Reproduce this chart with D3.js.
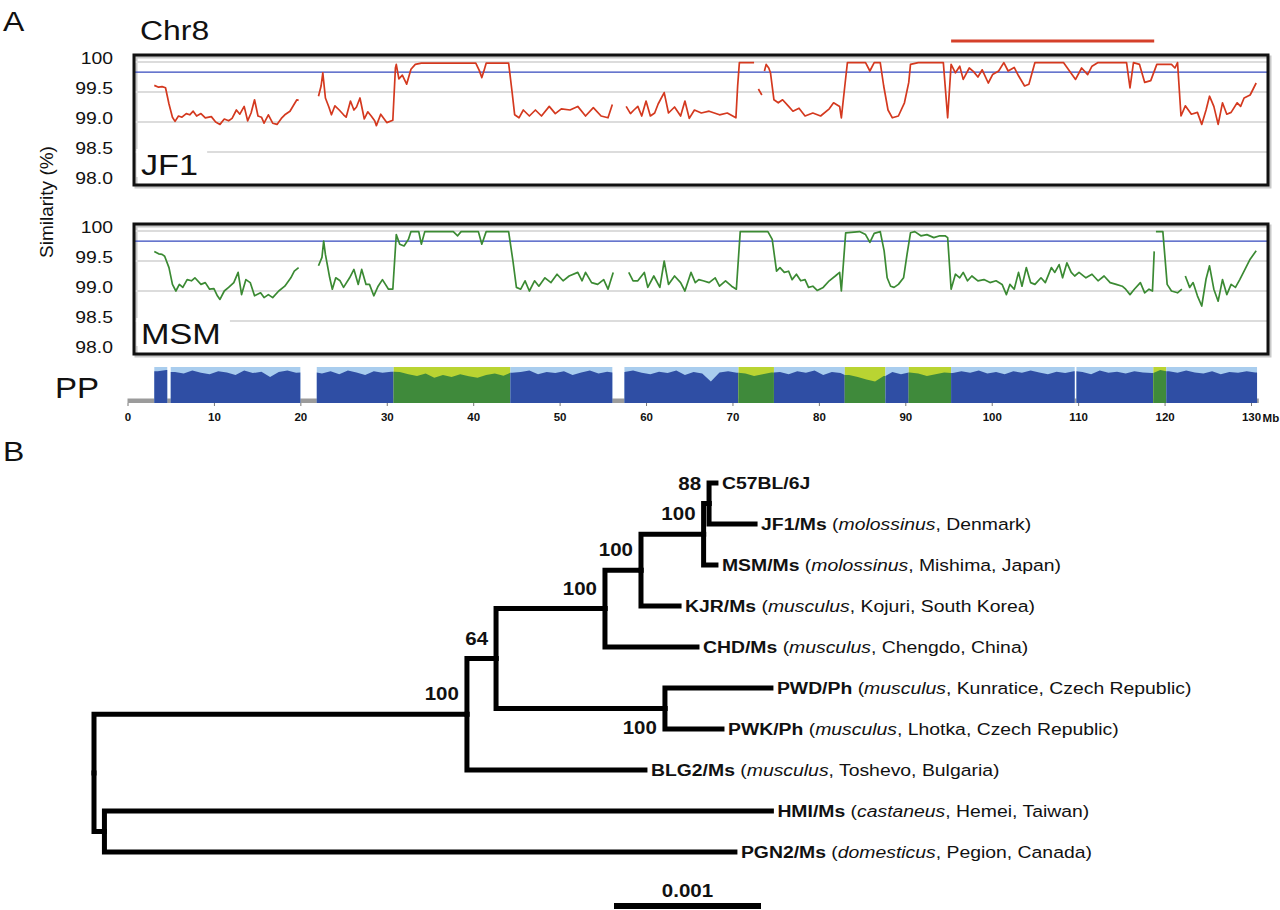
<!DOCTYPE html>
<html>
<head>
<meta charset="utf-8">
<script src="https://cdn.jsdelivr.net/npm/d3@7"></script>
<style>
body { margin: 0; background: #fff; }
svg { display: block; font-family: "Liberation Sans", Arial, Helvetica, sans-serif; }
</style>
</head>
<body>
<div id="figure"></div>
<script>
// ---- panel A: sliding-window similarity to C57BL/6J on Chr8 (Mb, %) ----
// null marks a break in the line
const jf1Points = [
  [3.1,99.61],[3.6,99.58],[4.0,99.59],[4.4,99.57],[4.8,99.3],[5.2,99.08],[5.5,99.01],[5.9,99.1],[6.3,99.08],[6.8,99.14],
  [7.2,99.12],[7.6,99.18],[8.0,99.1],[8.5,99.14],[9.0,99.07],[9.7,99.09],[10.2,99.0],[10.7,98.96],[11.2,99.05],[11.7,99.02],
  [12.1,99.06],[12.6,99.2],[13.0,99.13],[13.5,99.26],[13.9,99.02],[14.3,99.15],[14.7,99.37],[15.1,99.1],[15.5,99.08],[15.8,98.98],
  [16.3,99.12],[16.8,98.98],[17.3,98.96],[17.8,99.06],[18.2,99.12],[18.8,99.18],[19.3,99.3],[19.6,99.37],[19.8,99.36],
  null,
  [22.1,99.43],[22.4,99.6],[22.6,99.82],[22.9,99.4],[23.3,99.25],[23.6,99.12],[24.0,99.27],[24.5,99.2],[25.0,99.12],[25.3,99.08],
  [25.8,99.35],[26.2,99.2],[26.5,99.25],[26.9,99.4],[27.4,99.05],[27.8,99.17],[28.2,99.1],[28.6,99.02],[28.8,98.94],[29.3,99.13],
  [29.7,99.05],[30.0,98.99],[30.7,99.03],[31.0,99.9],[31.1,99.96],[31.4,99.72],[31.8,99.78],[32.3,99.63],[32.8,99.88],[33.3,99.96],
  [34.0,99.98],[36.0,99.98],[38.0,99.98],[40.3,99.98],[40.7,99.86],[41.0,99.74],[41.3,99.88],[41.5,99.98],[43.0,99.98],[44.1,99.98],
  [44.5,99.5],[44.8,99.12],[45.3,99.07],[45.8,99.2],[46.5,99.1],[47.2,99.2],[47.9,99.1],[48.8,99.26],[49.5,99.14],[50.2,99.22],
  [51.2,99.2],[52.1,99.26],[53.0,99.1],[53.9,99.24],[54.8,99.1],[55.6,99.07],[56.1,99.29],
  null,
  [57.7,99.26],[58.2,99.14],[58.6,99.2],[59.05,99.26],[59.5,99.1],[60.0,99.35],[60.5,99.1],[61.0,99.15],[61.4,99.3],[62.1,99.49],
  [62.6,99.15],[63.3,99.25],[64.0,99.1],[64.5,99.35],[65.0,99.06],[65.6,99.2],[66.4,99.15],[67.3,99.18],[68.5,99.12],[69.4,99.15],
  [70.4,99.07],[70.6,99.6],[70.8,99.99],[72.5,99.99],
  null,
  [73.0,99.55],[73.4,99.45],
  null,
  [73.7,99.85],[73.9,99.96],[74.2,99.9],[74.4,99.82],[74.8,99.37],[75.3,99.32],[75.8,99.37],[76.5,99.26],[77.0,99.18],[77.7,99.23],
  [78.4,99.1],[79.3,99.15],[80.2,99.1],[81.2,99.22],[81.7,99.32],[82.4,99.26],[82.6,99.07],[83.0,99.6],[83.3,99.99],[84.7,99.99],
  [85.4,99.99],[85.9,99.85],[86.4,99.99],[87.1,99.99],[87.5,99.6],[88.0,99.2],[88.5,99.07],[89.2,99.1],[89.9,99.32],[90.4,99.66],
  [90.6,99.96],[91.5,99.99],[93.0,99.99],[94.4,99.99],[94.9,99.07],[95.3,99.96],[95.8,99.82],[96.3,99.93],[96.7,99.71],[97.4,99.9],
  [97.9,99.84],[98.4,99.75],[98.9,99.87],[99.6,99.65],[100.1,99.79],[100.8,99.85],[101.4,99.99],[101.9,99.85],[102.6,99.91],[103.1,99.77],
  [103.8,99.6],[104.3,99.63],[105.0,99.99],[106.5,99.99],[108.3,99.99],[109.0,99.85],[109.7,99.71],[110.4,99.9],[111.1,99.79],[111.6,99.93],
  [112.3,99.99],[114.0,99.99],[115.6,99.99],[116.0,99.57],[116.4,99.99],[117.1,99.96],[117.7,99.66],[118.4,99.69],[119.1,99.96],[120.8,99.96],
  [121.2,99.9],[121.5,99.99],[121.9,99.1],[122.4,99.27],[123.1,99.13],[123.8,99.16],[124.3,98.96],[124.8,99.2],[125.2,99.43],[125.7,99.26],
  [126.2,98.96],[126.7,99.32],[127.2,99.13],[127.7,99.16],[128.4,99.32],[128.8,99.26],[129.2,99.4],[129.9,99.45],[130.6,99.65]
];

const msmPoints = [
  [3.1,99.66],[3.6,99.62],[4.0,99.61],[4.3,99.58],[4.8,99.39],[5.2,99.11],[5.6,99.0],[6.0,99.11],[6.4,99.06],[6.9,99.19],
  [7.4,99.17],[7.8,99.22],[8.5,99.11],[9.0,99.14],[9.5,99.03],[10.0,99.04],[10.4,98.92],[10.7,98.86],[11.2,99.0],[11.7,99.06],
  [12.3,99.14],[12.8,99.31],[13.2,98.94],[13.7,99.19],[14.2,99.14],[14.7,98.92],[15.4,98.97],[15.8,98.89],[16.3,98.94],[16.8,98.89],
  [17.5,99.0],[18.2,99.08],[18.9,99.22],[19.3,99.33],[19.8,99.39],
  null,
  [22.1,99.42],[22.5,99.56],[22.7,99.83],[22.9,99.61],[23.4,99.22],[23.7,99.03],[24.1,99.22],[24.6,99.17],[25.0,99.06],[25.7,99.22],
  [26.2,99.36],[26.7,99.11],[27.1,99.36],[27.6,99.11],[28.0,99.11],[28.5,98.92],[29.0,99.08],[29.5,99.19],[30.2,99.03],[30.7,99.03],
  [31.1,99.94],[31.5,99.78],[32.0,99.75],[32.5,99.86],[32.8,99.99],[33.7,99.99],[34.0,99.78],[34.4,99.99],[37.7,99.99],[38.2,99.92],
  [38.6,99.99],[40.6,99.99],[41.0,99.78],[41.5,99.99],[44.1,99.99],[44.6,99.5],[45.0,99.06],[45.5,99.03],[46.0,99.17],[46.5,99.0],
  [47.1,99.17],[47.6,99.08],[48.3,99.22],[49.0,99.14],[49.7,99.28],[50.4,99.17],[51.1,99.25],[52.1,99.31],[52.6,99.17],[53.0,99.31],
  [53.7,99.14],[54.4,99.11],[55.1,99.19],[55.6,99.03],[56.2,99.31],
  null,
  [58.0,99.31],[58.5,99.17],[59.05,99.17],[59.8,99.31],[60.2,99.06],[60.9,99.25],[61.6,99.06],[62.1,99.5],[62.6,99.11],[63.3,99.25],
  [64.0,99.14],[64.5,99.0],[65.2,99.31],[65.7,99.14],[66.1,99.19],[66.6,99.17],[67.3,99.14],[68.0,99.22],[68.5,99.08],[69.2,99.17],
  [69.9,99.08],[70.45,99.03],[70.9,99.99],[72.5,99.99],[74.1,99.99],[74.6,99.86],[75.1,99.33],[75.5,99.39],[76.0,99.31],[76.5,99.33],
  [76.9,99.19],[77.4,99.28],[77.9,99.17],[78.4,99.19],[78.8,99.06],[79.3,99.08],[79.8,99.01],[80.5,99.06],[81.2,99.17],[81.9,99.25],
  [82.4,99.31],[82.6,99.0],[83.1,99.97],[84.7,99.99],[85.4,99.94],[85.9,99.81],[86.4,99.96],[87.1,99.99],[87.55,99.67],[87.9,99.22],
  [88.3,99.08],[88.7,99.06],[89.2,99.11],[89.8,99.22],[90.2,99.61],[90.6,99.97],[91.1,99.99],[91.8,99.92],[92.5,99.94],[93.3,99.89],
  [94.0,99.92],[94.6,99.92],[94.9,99.89],[95.3,99.03],[95.8,99.28],[96.3,99.22],[96.7,99.31],[97.2,99.17],[97.7,99.25],[98.4,99.17],
  [99.1,99.19],[99.8,99.14],[100.5,99.17],[101.2,99.11],[101.7,98.94],[102.1,99.11],[102.6,99.03],[103.1,99.31],[103.5,99.08],[104.0,99.39],
  [104.5,99.14],[105.0,99.11],[105.7,99.22],[106.2,99.14],[106.9,99.39],[107.3,99.31],[107.8,99.44],[108.2,99.22],[108.7,99.47],[109.2,99.31],
  [109.6,99.25],[110.1,99.31],[110.9,99.22],[111.6,99.28],[112.3,99.17],[113.0,99.25],[113.7,99.14],[114.4,99.11],[115.1,99.08],[115.5,99.03],
  [116.0,98.94],[116.5,99.03],[117.2,99.14],[117.7,98.97],[118.2,99.03],[118.6,99.0],[118.8,99.66],
  null,
  [119.0,99.99],[119.8,99.99],[120.3,99.11],[120.8,99.0],[121.5,98.97],[122.0,99.03],
  null,
  [122.4,99.25],[122.9,99.06],[123.3,99.14],[123.8,98.92],[124.3,98.75],[124.8,99.2],[125.2,99.42],[125.7,99.03],[126.2,98.83],[126.7,99.19],
  [127.2,98.94],[127.7,99.11],[128.2,99.06],[128.7,99.19],[129.2,99.33],[129.9,99.53],[130.6,99.67]
];

const yTicks = [98.0, 98.5, 99.0, 99.5, 100];
const gridValues = [98.5, 99.0, 99.5, 100];
const threshold = 99.83;
const xTicks = [0, 10, 20, 30, 40, 50, 60, 70, 80, 90, 100, 110, 120, 130];
const redBarRange = [95.3, 118.8];
const chrEnd = 130.9;

// PP bar: ancestry blocks [start Mb, end Mb, ancestry] and the
// dominant-ancestry posterior per 1 Mb window, starting at 3 Mb
const ppSegments = [
  [3.1, 4.6, "mus"], [5.0, 20.0, "mus"], [21.9, 30.8, "mus"], [30.8, 44.3, "cas"],
  [44.3, 56.1, "mus"], [57.5, 70.7, "mus"], [70.7, 74.8, "cas"], [74.8, 83.0, "mus"],
  [83.0, 87.7, "cas"], [87.7, 90.4, "mus"], [90.4, 95.3, "cas"], [95.3, 109.6, "mus"],
  [109.8, 118.7, "mus"], [118.7, 120.2, "cas"], [120.2, 130.7, "mus"]
];
const ppStartMb = 3;
const ppDark = [
  .88,.92,.86,.82,.9,.84,.8,.88,.85,.78,
  .9,.83,.87,.72,.86,.9,.84,.85,.85,.82,
  .88,.8,.9,.85,.78,.88,.84,.87,.86,.8,
  .75,.82,.7,.78,.72,.8,.74,.7,.78,.82,
  .76,.84,.86,.9,.8,.86,.83,.88,.78,.85,
  .9,.82,.87,.85,.86,.9,.84,.8,.87,.83,
  .9,.78,.86,.82,.6,.85,.88,.84,.82,.75,
  .8,.85,.86,.8,.88,.84,.9,.78,.86,.83,
  .78,.72,.65,.6,.75,.86,.8,.85,.82,.75,
  .8,.85,.83,.88,.84,.9,.82,.86,.8,.88,
  .84,.9,.85,.8,.87,.83,.88,.86,.8,.9,
  .84,.87,.82,.88,.85,.83,.92,.88,.84,.9,
  .85,.82,.88,.8,.86,.84,.88,.85
];

// ---- panel B: neighbour-joining tree (branch length in subst./site) ----
const treeNodes = [
  {id: "root", parent: null, len: 0},
  {id: "n1", parent: "root", len: 0.002537, support: 100},
  {id: "n2", parent: "n1", len: 0.000198, support: 64},
  {id: "n3", parent: "n2", len: 0.000741, support: 100},
  {id: "n4", parent: "n3", len: 0.000245, support: 100},
  {id: "n5", parent: "n4", len: 0.000426, support: 100},
  {id: "n6", parent: "n5", len: 0.000037, support: 88},
  {id: "C57BL/6J", parent: "n6", len: 0.000047},
  {id: "JF1/Ms", parent: "n6", len: 0.000313},
  {id: "MSM/Ms", parent: "n5", len: 0.000084},
  {id: "KJR/Ms", parent: "n4", len: 0.000259},
  {id: "CHD/Ms", parent: "n3", len: 0.000626},
  {id: "n7", parent: "n2", len: 0.001149, support: 100},
  {id: "PWD/Ph", parent: "n7", len: 0.000721},
  {id: "PWK/Ph", parent: "n7", len: 0.000388},
  {id: "BLG2/Ms", parent: "n1", len: 0.001211},
  {id: "n8", parent: "root", len: 0.000071},
  {id: "HMI/Ms", parent: "n8", len: 0.004537},
  {id: "PGN2/Ms", parent: "n8", len: 0.004289}
];
const leafSubspecies = {
  "JF1/Ms": "molossinus", "MSM/Ms": "molossinus", "KJR/Ms": "musculus", "CHD/Ms": "musculus",
  "PWD/Ph": "musculus", "PWK/Ph": "musculus", "BLG2/Ms": "musculus", "HMI/Ms": "castaneus",
  "PGN2/Ms": "domesticus"
};
const leafOrigin = {
  "JF1/Ms": "Denmark", "MSM/Ms": "Mishima, Japan", "KJR/Ms": "Kojuri, South Korea",
  "CHD/Ms": "Chengdo, China", "PWD/Ph": "Kunratice, Czech Republic", "PWK/Ph": "Lhotka, Czech Republic",
  "BLG2/Ms": "Toshevo, Bulgaria", "HMI/Ms": "Hemei, Taiwan", "PGN2/Ms": "Pegion, Canada"
};
const scaleBarLength = 0.001;

// ---------------------------------------------------------------------
const SX = 1.14;  // the original figure is slightly wide-set
const svg = d3.select("#figure").append("svg")
    .attr("width", 1280)
    .attr("height", 910);

function stretched(parent, x, y, size, weight) {
    return parent.append("text")
        .attr("transform", `translate(${x},${y}) scale(${SX},1)`)
        .attr("font-size", size)
        .attr("font-weight", weight || "normal")
        .attr("fill", "#111");
}

const x = d3.scaleLinear().domain([0, 130]).range([127.5, 1251]);
const boxLeft = 134, boxRight = 1268;

stretched(svg, 3, 31, 28).text("A");
stretched(svg, 140, 40, 28).text("Chr8");

svg.append("line")
    .attr("x1", x(redBarRange[0])).attr("x2", x(redBarRange[1]))
    .attr("y1", 41).attr("y2", 41)
    .attr("stroke", "#d5402a")
    .attr("stroke-width", 3);

svg.append("text")
    .attr("transform", "translate(53,202) rotate(-90)")
    .attr("text-anchor", "middle")
    .attr("font-size", 19)
    .attr("fill", "#111")
    .text("Similarity (%)");

const panels = [
    {name: "JF1", points: jf1Points, color: "#d4391f", top: 55},
    {name: "MSM", points: msmPoints, color: "#3b8a33", top: 224}
];

panels.forEach(p => {
    const g = svg.append("g");
    const y = d3.scaleLinear().domain([98, 100]).range([p.top + 127, p.top + 7]);

    // soft shadow behind the frame
    g.append("rect")
        .attr("x", boxLeft + 2).attr("y", p.top + 2)
        .attr("width", boxRight - boxLeft).attr("height", 130)
        .attr("fill", "none").attr("stroke", "#c8c8c8").attr("stroke-width", 3);

    g.selectAll(".grid")
        .data(gridValues)
        .enter()
        .append("line")
        .attr("x1", boxLeft).attr("x2", boxRight)
        .attr("y1", d => y(d)).attr("y2", d => y(d))
        .attr("stroke", "#dcdcdc")
        .attr("stroke-width", 2);

    g.append("line")
        .attr("x1", boxLeft).attr("x2", boxRight)
        .attr("y1", y(threshold)).attr("y2", y(threshold))
        .attr("stroke", "#3548bd")
        .attr("stroke-width", 1.3);

    const line = d3.line()
        .defined(d => d !== null)
        .x(d => x(d[0]))
        .y(d => y(d[1]));

    g.append("path")
        .datum(p.points)
        .attr("d", line)
        .attr("fill", "none")
        .attr("stroke", p.color)
        .attr("stroke-width", 1.7)
        .attr("stroke-linejoin", "round");

    // strain label on a white patch that interrupts the grid
    const lab = g.append("g").attr("transform", `translate(141,${p.top + 120}) scale(${SX},1)`);
    const bg = lab.append("rect").attr("fill", "#fff");
    const t = lab.append("text")
        .attr("font-size", 30)
        .attr("fill", "#111")
        .text(p.name);
    const w = t.node().getComputedTextLength();
    bg.attr("x", -4).attr("y", -26).attr("width", w + 12).attr("height", 28);

    g.append("rect")
        .attr("x", boxLeft).attr("y", p.top)
        .attr("width", boxRight - boxLeft).attr("height", 130)
        .attr("fill", "none").attr("stroke", "#111").attr("stroke-width", 3);

    const yAxis = g.append("g")
        .attr("transform", `translate(${boxLeft},0)`)
        .call(d3.axisLeft(y).tickValues(yTicks).tickSize(0)
            .tickFormat(d => d === 100 ? "100" : d3.format(".1f")(d)));
    yAxis.select(".domain").remove();
    yAxis.selectAll("text")
        .attr("x", -21 / SX)
        .attr("dy", "0.1em")
        .attr("transform", `scale(${SX},1)`)
        .attr("font-size", 17)
        .attr("font-family", "Liberation Sans, Arial, sans-serif")
        .attr("fill", "#111");
});

// ---- PP bar ----
const ppTop = 367, ppBottom = 403;
const ppColors = {
    mus: {light: "#a9cdee", dark: "#2f4ea4"},
    cas: {light: "#b9d432", dark: "#3f8a3b"}
};
stretched(svg, 55, 398, 29).text("PP");

svg.append("rect")
    .attr("x", x(0)).attr("y", 398.5)
    .attr("width", x(chrEnd) - x(0)).attr("height", 4.5)
    .attr("fill", "#9b9b9b");

const ppY = d3.scaleLinear().domain([0, 1]).range([ppBottom, ppTop]);
const darkAt = pos => ppDark[Math.max(0, Math.min(ppDark.length - 1, Math.floor(pos) - ppStartMb))];
const ppArea = d3.area()
    .x(d => x(d))
    .y0(ppBottom)
    .y1(d => ppY(darkAt(d)));

ppSegments.forEach(s => {
    const [start, end, anc] = s;
    svg.append("rect")
        .attr("x", x(start)).attr("y", ppTop)
        .attr("width", x(end) - x(start)).attr("height", ppBottom - ppTop)
        .attr("fill", ppColors[anc].light);
    const pts = [start];
    for (let i = Math.floor(start); i < end; i++) {
        if (i + 0.5 > start && i + 0.5 < end) pts.push(i + 0.5);
    }
    pts.push(end);
    svg.append("path")
        .datum(pts)
        .attr("d", ppArea)
        .attr("fill", ppColors[anc].dark);
});

const xAxis = svg.append("g")
    .attr("transform", `translate(0,${ppBottom})`)
    .call(d3.axisBottom(x).tickValues(xTicks).tickSize(3).tickPadding(7));
xAxis.select(".domain").remove();
xAxis.selectAll(".tick line").attr("stroke", "#777");
xAxis.selectAll("text")
    .attr("font-size", 11.5)
    .attr("font-weight", "bold")
    .attr("font-family", "Liberation Sans, Arial, sans-serif")
    .attr("fill", "#111");
const lastTick = xAxis.selectAll("text").filter(d => d === 130);
const lastW = lastTick.node().getComputedTextLength();
svg.append("text")
    .attr("x", x(130) + lastW / 2 + 2)
    .attr("y", ppBottom + 18.5)
    .attr("font-size", 11.5)
    .attr("font-weight", "bold")
    .attr("fill", "#111")
    .text("Mb");

// ---- panel B: tree ----
stretched(svg, 3, 461, 28).text("B");

const root = d3.stratify().id(d => d.id).parentId(d => d.parent)(treeNodes);
root.each(d => { d.dist = d.parent ? d.parent.dist + d.data.len : 0; });
const leaves = root.leaves();
const tx = d3.scaleLinear().domain([0, 0.005]).range([94, 829]);
const ty = d3.scalePoint().domain(leaves.map(d => d.id)).range([483, 852]);
root.eachAfter(d => {
    d.yy = d.children
        ? (d.children[0].yy + d.children[d.children.length - 1].yy) / 2
        : ty(d.id);
});

const tree = svg.append("g");
tree.selectAll(".branch")
    .data(root.descendants().filter(d => d.parent))
    .enter()
    .append("path")
    .attr("d", d => `M${tx(d.parent.dist)},${d.parent.yy}V${d.yy}H${tx(d.dist)}`)
    .attr("fill", "none")
    .attr("stroke", "#000")
    .attr("stroke-width", 5)
    .attr("stroke-linecap", "square")
    .attr("stroke-linejoin", "miter");

root.descendants().filter(d => d.data.support).forEach(d => {
    const below = d.id === "n7";
    stretched(tree, 0, 0, 18, "bold")
        .attr("transform", `translate(${tx(d.dist) - 8},${below ? d.yy + 25 : d.yy - 14}) scale(${SX},1)`)
        .attr("text-anchor", "end")
        .text(d.data.support);
});

leaves.forEach(d => {
    const t = stretched(tree, tx(d.dist) + 6, d.yy + 6, 17);
    t.append("tspan").attr("font-weight", "bold").text(d.id);
    if (leafSubspecies[d.id]) {
        t.append("tspan").text(" (");
        t.append("tspan").attr("font-style", "italic").text(leafSubspecies[d.id]);
        t.append("tspan").text(", " + leafOrigin[d.id] + ")");
    }
});

const barX0 = 614;
tree.append("line")
    .attr("x1", barX0).attr("x2", barX0 + tx(scaleBarLength) - tx(0))
    .attr("y1", 906).attr("y2", 906)
    .attr("stroke", "#000")
    .attr("stroke-width", 6);
stretched(tree, barX0 + (tx(scaleBarLength) - tx(0)) / 2, 897, 18, "bold")
    .attr("text-anchor", "middle")
    .text("0.001");
</script>
</body>
</html>
